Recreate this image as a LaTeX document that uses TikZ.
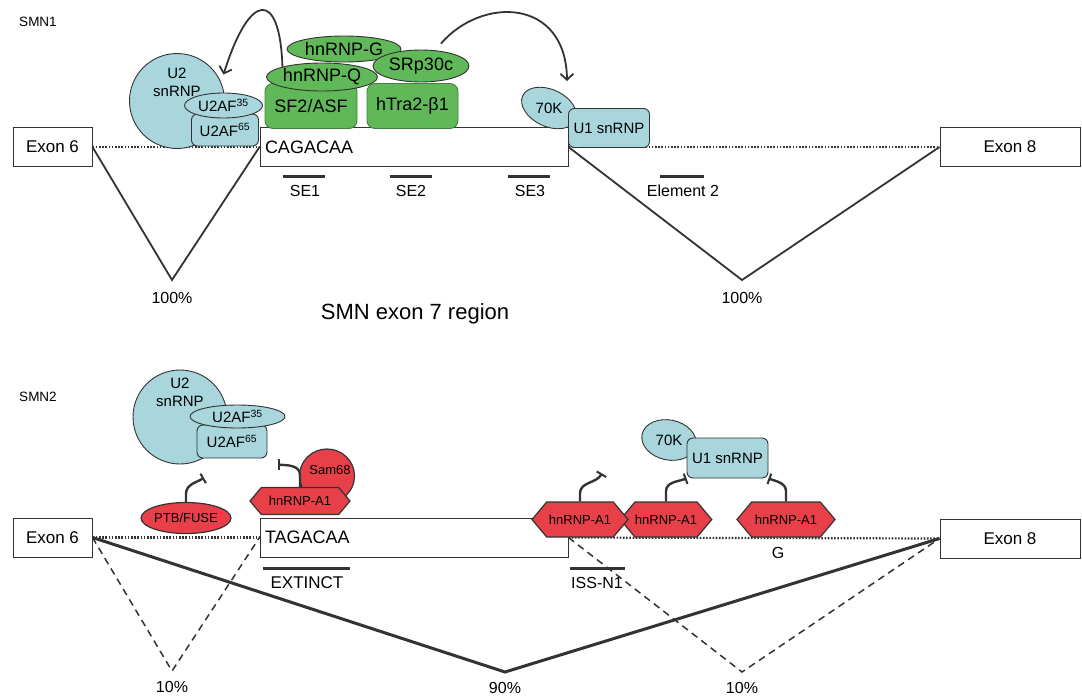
\documentclass[tikz,border=0pt]{standalone}
\usepackage{fontspec}
\setmainfont{Liberation Sans}
\usetikzlibrary{shapes.geometric,shapes.symbols,arrows.meta}
\definecolor{snblue}{RGB}{168,214,220}
\definecolor{srgreen}{RGB}{96,184,88}
\definecolor{hnred}{RGB}{232,64,72}
\definecolor{ink}{RGB}{51,51,51}
\newcommand{\fsz}[1]{\fontsize{#1}{#1}\selectfont}
\begin{document}
\begin{tikzpicture}
    [x=1pt,y=-1pt,
    every node/.style={text=black},
    exon/.style={draw=ink,fill=white,line width=1pt,minimum height=39pt,inner sep=0pt,font=\fsz{17}},
    exonseven/.style={exon,minimum width=308pt,text width=298pt,align=left,font=\fsz{18}},
    intron/.style={draw=ink,line width=2.2pt,dash pattern=on 1.6pt off 1.6pt},
    splice/.style={draw=ink,line width=1.8pt},
    skipline/.style={draw=ink,line width=3pt},
    inclline/.style={draw=ink,line width=1.5pt,dash pattern=on 7pt off 5pt},
    pct/.style={font=\fsz{16}},
    elem/.style={font=\fsz{16}},
    elembar/.style={draw=ink,line width=3pt},
    bluebox/.style={draw=ink,fill=snblue,rounded corners=6pt,line width=0.9pt,inner sep=0pt,font=\fsz{15}},
    blueoval/.style={ellipse,draw=ink,fill=snblue,line width=0.9pt,inner sep=0pt,font=\fsz{15}},
    greenbox/.style={draw=srgreen!70!black,fill=srgreen,rounded corners=8pt,line width=0.9pt,inner sep=0pt,font=\fsz{18}},
    greenoval/.style={ellipse,draw=ink,fill=srgreen,line width=0.9pt,inner sep=0pt,font=\fsz{18}},
    redoval/.style={ellipse,draw=ink,fill=hnred,line width=1.2pt,inner sep=0pt,font=\fsz{13}},
    redhex/.style={signal,signal to=east and west,signal pointer angle=100,draw=ink,fill=hnred,line width=1.2pt,inner sep=0pt,minimum height=35pt,font=\fsz{13}},
    recruit/.style={draw=ink,line width=1.8pt,-{Straight Barb[length=6pt,width=13pt,line width=1.8pt]}},
    inhib/.style={draw=ink,line width=2.4pt,-{Bar[width=11pt,line width=2pt]}}]
    \useasboundingbox[fill=white] (0,0) rectangle (1082,696);
    %SMN1
    \node[font=\fsz{13.5}] (smnone) at (38,22) {SMN1};
    %exons
    \node[exon,minimum width=79pt] (exsixa) at (52.5,147) {Exon 6};
    \node[exonseven] (exsevena) at (414,147) {CAGACAA};
    \node[exon,minimum width=140pt] (exeighta) at (1010,147) {Exon 8};
    \draw[intron] (exsixa.east) -- (exsevena.west);
    \draw[intron] (exsevena.east) -- (exeighta.west);
    %splicing
    \coordinate (vaone) at (172,280);
    \coordinate (vatwo) at (742,280);
    \draw[splice] (exsixa.east) -- (vaone) -- (exsevena.west);
    \draw[splice] (exsevena.east) -- (vatwo) -- (exeighta.west);
    \node[pct,below=9pt] (pcaone) at (vaone) {100\%};
    \node[pct,below=9pt] (pcatwo) at (vatwo) {100\%};
    %elements
    \draw[elembar] (283,176) -- (325,176);
    \draw[elembar] (390,176) -- (432,176);
    \draw[elembar] (508,176) -- (550,176);
    \draw[elembar] (660,176) -- (704,176);
    \node[elem] (seone) at (305,191) {SE1};
    \node[elem] (setwo) at (411,191) {SE2};
    \node[elem] (sethree) at (530,191) {SE3};
    \node[elem] (eltwo) at (683,191) {Element 2};
    \node[font=\fsz{22}] (title) at (415,314) {SMN exon 7 region};
    %U2 complex
    \node[circle,draw=ink,fill=snblue,line width=0.9pt,minimum size=95pt] (utwoa) at (177,101) {};
    \node[font=\fontsize{15}{18}\selectfont,align=center] (utwoatext) at (177,82) {U2\\snRNP};
    \node[bluebox,minimum width=67pt,minimum height=32pt] (uafsixfivea) at (225,130) {U2AF\textsuperscript{65}};
    \node[blueoval,minimum width=78pt,minimum height=25pt] (uafthreefivea) at (223.5,105.5) {U2AF\textsuperscript{35}};
    %SR proteins
    \node[greenbox,minimum width=92pt,minimum height=45pt] (sftwo) at (311,106) {SF2/ASF};
    \node[greenbox,minimum width=91pt,minimum height=45pt] (htra) at (412.5,106) {hTra2-β1};
    \node[greenoval,minimum width=114pt,minimum height=26pt] (hng) at (344,49) {hnRNP-G};
    \node[greenoval,minimum width=96pt,minimum height=32pt] (srp) at (421,66) {SRp30c};
    \node[greenoval,minimum width=111pt,minimum height=28pt] (hnq) at (322,77) {hnRNP-Q};
    %U1 complex
    \node[blueoval,rotate=-25,minimum width=58pt,minimum height=37pt] (sevka) at (549,108) {\rotatebox{25}{70K}};
    \node[bluebox,minimum width=81pt,minimum height=39pt] (uonea) at (609,128) {U1 snRNP};
    \coordinate (uoneaim) at (567,81);
    %recruitment
    \draw[recruit] (hnq.north west) .. controls (280,-10) and (250,-10) .. ([yshift=18pt]uafthreefivea.north);
    \draw[recruit] ([shift={(20pt,6pt)}]srp.north) .. controls (482,-4) and (566,-2) .. (uoneaim);

    %SMN2
    \node[font=\fsz{13.5}] (smntwo) at (38,397) {SMN2};
    %exons
    \node[exon,minimum width=79pt] (exsixb) at (52.5,537.5) {Exon 6};
    \node[exonseven] (exsevenb) at (414,537.5) {TAGACAA};
    \node[exon,minimum width=140pt] (exeightb) at (1010,538.5) {Exon 8};
    \draw[intron] (exsixb.east) -- (exsevenb.west);
    \draw[intron] (exsevenb.east) -- (exeightb.west);
    %splicing
    \coordinate (vbone) at (172,671);
    \coordinate (vbtwo) at (505,672);
    \coordinate (vbthree) at (742,672);
    \draw[skipline] (exsixb.east) -- (vbtwo) -- (exeightb.west);
    \draw[inclline] (exsixb.east) -- (vbone) -- (exsevenb.west);
    \draw[inclline] (exsevenb.east) -- (vbthree) -- (exeightb.west);
    \node[pct,below=7pt] (pcbone) at (vbone) {10\%};
    \node[pct,below=7pt] (pcbtwo) at (vbtwo) {90\%};
    \node[pct,below=7pt] (pcbthree) at (vbthree) {10\%};
    %elements
    \draw[elembar] (263,568) -- (350,568);
    \draw[elembar] (570,568) -- (625,568);
    \node[font=\fsz{17}] (extinct) at (307,583) {EXTINCT};
    \node[elem] (issnone) at (597,583) {ISS-N1};
    \node[elem] (gmark) at (778,553) {G};
    %U2 complex
    \node[circle,draw=ink,fill=snblue,line width=0.9pt,minimum size=94pt] (utwob) at (180,417) {};
    \node[font=\fontsize{15}{18}\selectfont,align=center] (utwobtext) at (180,392) {U2\\snRNP};
    \node[bluebox,minimum width=70pt,minimum height=33pt] (uafsixfiveb) at (232,441.5) {U2AF\textsuperscript{65}};
    \node[blueoval,minimum width=95pt,minimum height=23pt] (uafthreefiveb) at (237.5,416.5) {U2AF\textsuperscript{35}};
    %repressors
    \node[redoval,minimum width=88pt,minimum height=31pt] (ptb) at (186,518) {PTB/FUSE};
    \node[redoval,minimum width=55pt,minimum height=54pt] (samsixeight) at (327,476) {};
    \node[font=\fsz{13}] (samtext) at (330,470) {Sam68};
    \node[redhex,minimum width=100pt,minimum height=27pt] (hnaz) at (300,501) {hnRNP-A1};
    \draw[inhib] (ptb.north) -- ++(0,-8) to[out=90,in=210] ++(18,-16);
    \draw[inhib] (hnaz.north) -- ++(0,-12) to[out=90,in=0] ++(-22,-10);
    %U1 complex
    \node[blueoval,rotate=-12,minimum width=55pt,minimum height=40pt] (sevkb) at (669,440) {\rotatebox{12}{70K}};
    \node[bluebox,minimum width=81pt,minimum height=40pt] (uoneb) at (727.5,458) {U1 snRNP};
    \node[redhex,minimum width=90pt] (hxb) at (666,519.5) {hnRNP-A1};
    \node[redhex,minimum width=96pt] (hxa) at (580,519.5) {hnRNP-A1};
    \node[redhex,minimum width=98pt] (hxc) at (786,519.5) {hnRNP-A1};
    \draw[inhib] (hxa.north) -- ++(0,-8) to[out=90,in=240] ++(22,-20);
    \draw[inhib] (hxb.north) -- ++(0,-10) to[out=90,in=200] (uoneb.south west);
    \draw[inhib] (hxc.north) -- ++(0,-10) to[out=90,in=340] (uoneb.south east);
\end{tikzpicture}
\end{document}
